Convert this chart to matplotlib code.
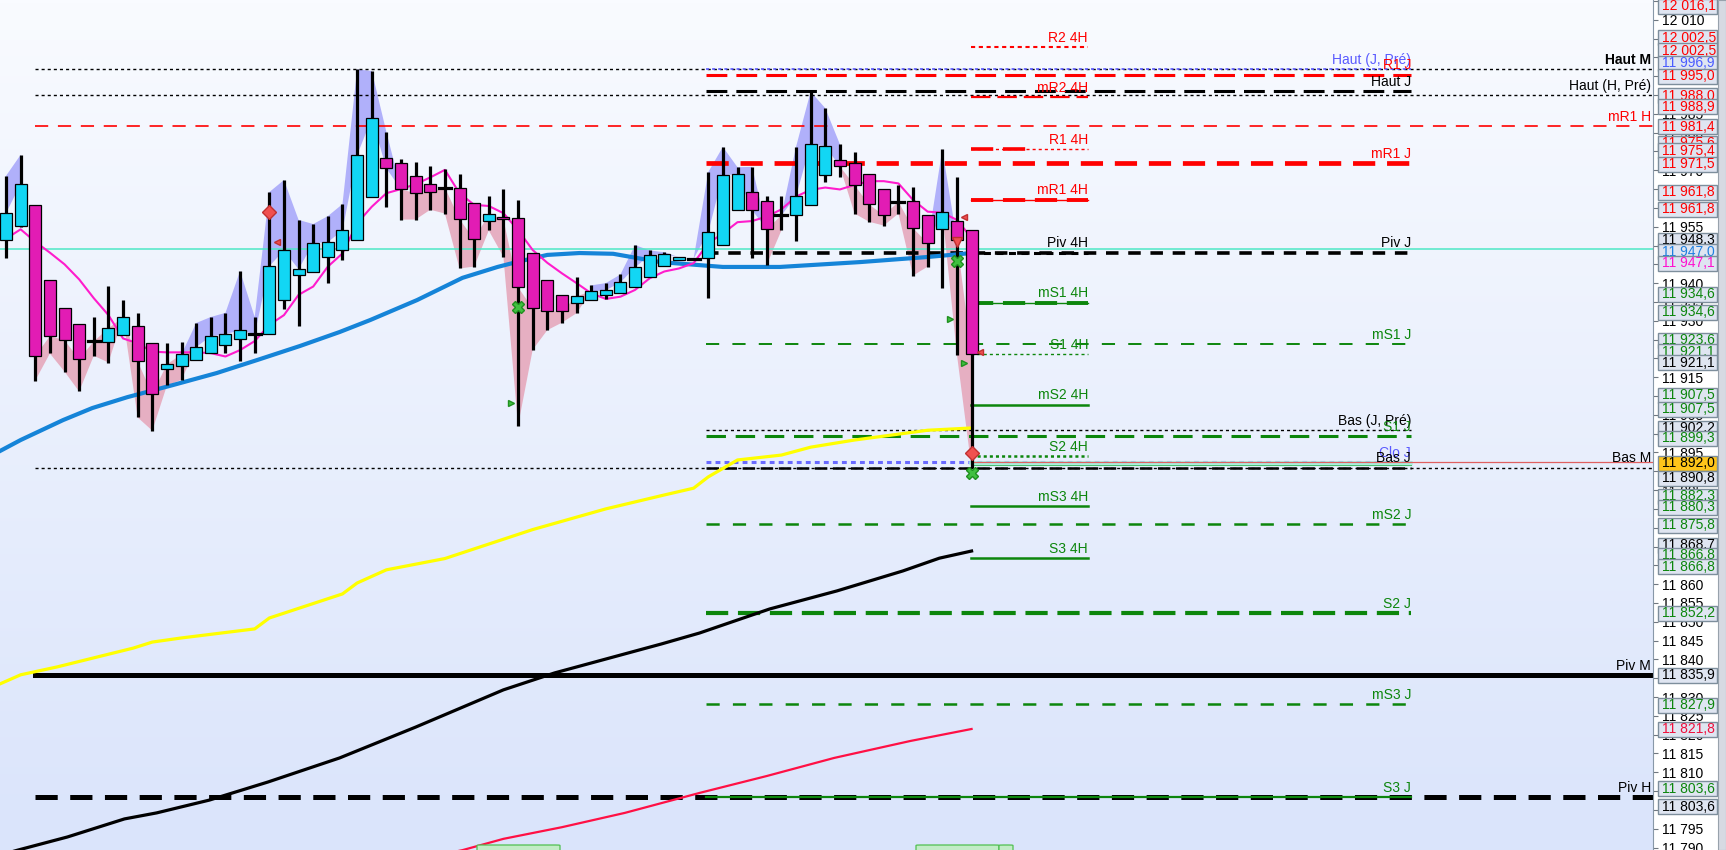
import numpy as np
import matplotlib.pyplot as plt
from matplotlib.patches import Rectangle, FancyBboxPatch
from matplotlib.transforms import blended_transform_factory
from matplotlib.colors import LinearSegmentedColormap

plt.rcParams['font.family'] = ['Liberation Sans', 'DejaVu Sans']
plt.rcParams['lines.scale_dashes'] = False

# candles (one per bar)
opens = [11951.5, 11955.1, 11960.7, 11940.8, 11933.3, 11929.1, 11924.5, 11924.3, 11926.1, 11928.5,
         11924.0, 11917.1, 11917.9, 11919.5, 11921.4, 11923.5, 11925.1, 11926.4, 11926.4, 11935.5,
         11942.1, 11942.9, 11946.9, 11948.7, 11951.4, 11962.8, 11973.2, 11971.8, 11968.4, 11966.3,
         11965.4, 11965.2, 11961.2, 11956.4, 11957.5, 11957.2, 11947.9, 11940.8, 11936.8, 11934.6,
         11935.4, 11936.8, 11937.3, 11938.9, 11941.6, 11944.5, 11946.1, 11946.5, 11946.6, 11950.1,
         11959.4, 11964.1, 11961.7, 11958.0, 11958.0, 11960.7, 11968.7, 11972.6, 11971.8, 11968.9,
         11964.9, 11961.6, 11961.7, 11958.0, 11954.3, 11956.4, 11954.0]
highs = [11968.5, 11974.1, 11960.7, 11940.8, 11933.3, 11929.1, 11931.0, 11939.3, 11935.5, 11932.1,
         11924.0, 11924.1, 11924.4, 11929.4, 11931.0, 11932.1, 11943.2, 11931.0, 11964.2, 11967.4,
         11956.8, 11955.7, 11957.8, 11961.0, 11996.8, 11996.4, 11980.2, 11972.9, 11972.2, 11971.0,
         11970.3, 11969.0, 11961.2, 11963.2, 11965.0, 11962.1, 11947.9, 11940.8, 11936.8, 11941.6,
         11939.4, 11940.0, 11942.3, 11950.1, 11948.7, 11948.2, 11946.9, 11946.5, 11969.5, 11976.2,
         11970.8, 11970.9, 11963.2, 11963.2, 11976.2, 11990.9, 11986.5, 11976.9, 11974.8, 11968.9,
         11964.9, 11966.1, 11965.5, 11958.0, 11975.6, 11968.1, 11954.0]
lows = [11946.6, 11955.0, 11914.1, 11921.3, 11916.5, 11911.2, 11920.7, 11918.9, 11926.1, 11904.3,
        11900.8, 11912.8, 11914.3, 11919.5, 11921.4, 11921.3, 11919.4, 11921.3, 11926.4, 11933.2,
        11928.7, 11942.9, 11940.1, 11946.2, 11951.4, 11962.8, 11960.3, 11956.9, 11956.9, 11959.5,
        11958.5, 11943.9, 11944.4, 11954.0, 11947.0, 11902.1, 11922.3, 11927.5, 11929.5, 11932.0,
        11935.4, 11935.7, 11937.3, 11938.9, 11941.6, 11944.5, 11946.1, 11946.5, 11936.1, 11950.1,
        11959.4, 11946.8, 11944.9, 11954.0, 11951.3, 11960.7, 11967.0, 11968.1, 11958.5, 11956.3,
        11955.3, 11958.5, 11942.0, 11944.4, 11938.8, 11921.0, 11890.8]
closes = [11958.6, 11966.3, 11920.6, 11925.9, 11924.8, 11919.8, 11924.5, 11928.0, 11930.9, 11919.2,
          11910.5, 11918.4, 11921.1, 11923.0, 11925.9, 11926.4, 11927.5, 11926.4, 11944.5, 11948.7,
          11943.7, 11950.6, 11950.9, 11954.0, 11974.0, 11983.8, 11970.5, 11964.9, 11963.9, 11964.1,
          11965.4, 11957.0, 11951.6, 11958.3, 11957.0, 11938.9, 11933.3, 11932.5, 11932.5, 11936.5,
          11937.8, 11938.1, 11940.2, 11944.2, 11947.4, 11947.7, 11946.9, 11946.5, 11953.5, 11968.7,
          11968.9, 11959.4, 11954.3, 11958.0, 11963.1, 11976.9, 11976.4, 11971.0, 11966.0, 11960.9,
          11958.0, 11961.6, 11954.6, 11950.6, 11958.8, 11951.4, 11921.1]

# short moving average (magenta), one value per bar
ma_fast = [11951.8, 11954.3, 11951.0, 11948.1, 11945.0, 11941.0, 11936.0, 11931.5, 11925.3, 11924.0,
           11921.8, 11921.6, 11921.6, 11921.6, 11921.4, 11920.5, 11922.2, 11924.6, 11928.9, 11931.5,
           11936.9, 11939.1, 11944.4, 11947.9, 11955.9, 11960.3, 11963.9, 11965.0, 11966.3, 11968.1,
           11970.1, 11963.9, 11960.8, 11960.5, 11958.6, 11954.1, 11948.8, 11945.4, 11942.6, 11940.0,
           11937.3, 11935.8, 11936.4, 11938.2, 11941.3, 11943.1, 11943.9, 11945.3, 11950.6, 11953.2,
           11956.2, 11956.5, 11957.7, 11959.6, 11963.0, 11964.8, 11965.4, 11964.9, 11966.1, 11967.1,
           11967.1, 11966.5, 11962.1, 11959.0, 11958.7, 11956.8, 11952.0]

# slower averages, read at a few bars
ma_blue_x = [-0.4, 1.0, 3.9, 5.9, 8.3, 11.4, 14.4, 17.2, 20.1, 22.8, 24.9, 28.1, 31.2, 33.6, 34.9,
             37.0, 39.2, 41.5, 44.7, 49.0, 52.9, 58.4, 63.0, 66.0]
ma_blue = [11895.4, 11898.3, 11903.6, 11906.8, 11909.7, 11912.9, 11916.1, 11919.6, 11923.3, 11927.0,
           11930.2, 11935.5, 11941.4, 11944.3, 11945.6, 11947.5, 11948.0, 11947.8, 11945.6, 11944.3,
           11944.3, 11945.6, 11946.95, 11948.0]
ma_yellow_x = [-0.4, 1, 3.5, 8.7, 10, 12, 17, 18, 23, 24, 26, 30, 36, 41, 45, 47, 48, 50, 53, 55, 58, 63, 66]
ma_yellow = [11833.5, 11835.9, 11838.0, 11843.0, 11844.6, 11845.7, 11848.1, 11851.0, 11857.4, 11860.3,
             11863.8, 11866.8, 11874.5, 11880.0, 11883.7, 11885.5, 11888.5, 11893.0, 11894.3, 11896.4,
             11898.3, 11900.9, 11901.5]
ma_black_x = [-0.4, 0.8, 4.2, 8.1, 10.3, 13.9, 17.9, 22.8, 28.0, 34.0, 37.5, 44.8, 47.4, 52.2, 56.8,
              61.3, 63.8, 66.0]
ma_black = [11788.0, 11789.3, 11792.8, 11797.6, 11799.2, 11802.6, 11807.4, 11813.8, 11822.0, 11831.9,
            11836.4, 11844.1, 11847.0, 11853.4, 11858.2, 11863.5, 11866.9, 11868.8]
ma_red_x = [29.0, 31.2, 34.0, 38.0, 42.3, 47.4, 52.0, 56.6, 61.8, 66.0]
ma_red = [11787.5, 11789.3, 11792.3, 11795.4, 11799.2, 11804.5, 11809.0, 11813.8, 11818.3, 11821.5]

# pivot levels: 4H, day (J) and long (M / H)
lvl4h_names = ['R2 4H', 'mR2 4H', 'R1 4H', 'mR1 4H', 'Piv 4H', 'mS1 4H', 'S1 4H', 'mS2 4H',
               'S2 4H', 'mS3 4H', 'S3 4H']
lvl4h_vals = [12002.8, 11989.4, 11975.6, 11962.2, 11948.1, 11934.8, 11921.1, 11907.7,
              11894.1, 11880.7, 11867.0]
lvlj_names = ['Haut (J, Pré)', 'R1 J', 'Haut J', 'mR1 J', 'Piv J', 'mS1 J', 'Bas (J, Pré)', 'S1 J',
              'Clo J', 'Bas J', 'mS2 J', 'S2 J', 'mS3 J', 'S3 J']
lvlj_vals = [11996.9, 11995.4, 11991.1, 11971.85, 11948.1, 11923.7, 11900.9, 11899.4,
             11892.4, 11890.95, 11875.9, 11852.2, 11828.05, 11803.4]
lvlm_names = ['Haut M', 'Haut (H, Pré)', 'mR1 H', 'Bas M', 'Piv M', 'Piv H']
lvlm_vals = [11996.9, 11989.9, 11981.8, 11890.95, 11835.85, 11803.4]
cyan_level = 11949.0
last_price = 11892.5

# price tags on the right scale
tag_vals = [12016.1, 12002.5, 12002.5, 11996.9, 11995.0, 11988.0, 11988.9, 11981.4, 11975.6, 11975.4,
            11971.5, 11961.8, 11961.8, 11948.3, 11947.0, 11947.1, 11934.6, 11934.6, 11923.6, 11921.1,
            11921.1, 11907.5, 11907.5, 11902.2, 11899.3, 11892.0, 11890.8, 11882.3, 11880.3, 11875.8,
            11868.7, 11866.8, 11866.8, 11852.2, 11835.9, 11827.9, 11821.8, 11803.6, 11803.6]
tag_kind = ['r', 'r', 'r', 'b', 'r', 'r', 'r', 'r', 'r', 'r',
            'r', 'r', 'r', 'k', 'c', 'm', 'g', 'g', 'g', 'g',
            'k', 'g', 'g', 'k', 'g', 'y', 'k', 'g', 'g', 'g',
            'k', 'g', 'g', 'g', 'k', 'g', 'p', 'g', 'k']
# rows (pixels from top) where the platform stacked the tags
tag_rows = [6, 37.7, 50.7, 63, 76, 95.7, 106.7, 126.7, 143, 150.7,
            164.3, 192, 209.3, 240, 251.7, 263.3, 294, 312.3, 340, 351.7,
            362.7, 395.3, 409.3, 428, 438.3, 463.3, 478.3, 496, 507.3, 525.3,
            545, 555, 566.7, 613.3, 675.3, 705, 729, 788.7, 806.7]

RED = '#ff0000'
GREEN = '#0c860c'
BLACK = '#000000'
BLUE = '#5a5aff'
UP = '#12d6f4'
DOWN = '#e21cb4'

W, H = 1726, 850
PLOT_W = 1653
fig = plt.figure(figsize=(W / 100, H / 100), dpi=100)
fig.patch.set_facecolor('white')
ax = fig.add_axes([0, 0, PLOT_W / W, 1])

bar_px = 14.63
x0 = -6 / bar_px
x1 = (PLOT_W - 6) / bar_px
y1 = 12015.25
px_per_pt = 3.7625
y0 = y1 - H / px_per_pt


def idx(px):
    return (px - 6) / bar_px


grad = np.linspace(0, 1, 256).reshape(-1, 1)
bg = LinearSegmentedColormap.from_list('bg', ['#f9fbff', '#dae4fb'])
ax.imshow(grad, extent=(x0, x1, y0, y1), origin='upper', aspect='auto', cmap=bg, zorder=0)

xs = np.arange(len(opens))
o = np.array(opens)
c = np.array(closes)
hi = np.array(highs)
lo = np.array(lows)
ma = np.array(ma_fast)

# shaded ribbons: towards the highs when above the fast average, towards the lows below it
ax.fill_between(xs, c, hi, where=c >= ma, interpolate=True, color='#b0b0fa', lw=0, zorder=1)
ax.fill_between(xs, c, lo, where=c < ma, interpolate=True, color='#e6afc2', lw=0, zorder=1)

# full-width levels
m_start, m_end = idx(35), x1
ax.plot([x0, x1], [cyan_level, cyan_level], color='#4ee8c6', lw=1.1, zorder=2)
mstyles = {
    'Haut M': dict(color=BLACK, lw=1.0, dashes=(2.2, 2.2)),
    'Haut (H, Pré)': dict(color=BLACK, lw=1.0, dashes=(2.2, 2.2)),
    'mR1 H': dict(color=RED, lw=1.2, dashes=(9.5, 7)),
    'Bas M': dict(color=BLACK, lw=1.0, dashes=(2.2, 2.2)),
    'Piv M': dict(color=BLACK, lw=3.6),
    'Piv H': dict(color=BLACK, lw=3.6, dashes=(16, 9)),
}
for name, v in zip(lvlm_names, lvlm_vals):
    ax.plot([m_start, m_end], [v, v], zorder=2, **mstyles[name])
    col = RED if name.startswith('mR') else BLACK
    ax.text(idx(1651), v + 0.6, name, ha='right', va='bottom', fontsize=10, color=col,
            zorder=6, fontweight='bold' if name == 'Haut M' else 'normal')

# day levels
j_start, j_end = idx(706), idx(1411)
jstyles = {
    'Haut (J, Pré)': dict(color=BLUE, lw=1.2, dashes=(2.2, 2.2)),
    'R1 J': dict(color=RED, lw=2.2, dashes=(15, 6.5)),
    'Haut J': dict(color=BLACK, lw=2.2, dashes=(15, 6.5)),
    'mR1 J': dict(color=RED, lw=3.4, dashes=(16, 8.5)),
    'Piv J': dict(color=BLACK, lw=2.6, dashes=(9, 7)),
    'mS1 J': dict(color=GREEN, lw=1.4, dashes=(9.5, 9.5)),
    'Bas (J, Pré)': dict(color=BLACK, lw=1.0, dashes=(2.2, 2.2)),
    'S1 J': dict(color=GREEN, lw=2.2, dashes=(14, 7)),
    'Clo J': dict(color='#6a6aff', lw=2.2, dashes=(3.5, 3)),
    'Bas J': dict(color=BLACK, lw=1.8, dashes=(9, 4)),
    'mS2 J': dict(color=GREEN, lw=1.8, dashes=(9.5, 9.5)),
    'S2 J': dict(color=GREEN, lw=3.0, dashes=(16, 7)),
    'mS3 J': dict(color=GREEN, lw=1.8, dashes=(9.5, 9.5)),
    'S3 J': dict(color=GREEN, lw=1.6),
}
for name, v in zip(lvlj_names, lvlj_vals):
    ax.plot([j_start, j_end], [v, v], zorder=2, **jstyles[name])
    st = jstyles[name]
    col = '#5a5aff' if name in ('Haut (J, Pré)', 'Clo J') else st['color']
    ax.text(j_end, v + 0.6, name, ha='right', va='bottom', fontsize=10, color=col, zorder=6)

# current price band and line
ax.plot([idx(971), j_end], [11892.2, 11892.2], color='#a8f2e2', lw=2.6, zorder=2)
ax.plot([idx(971), j_end], [11891.6, 11891.6], color='#4cc070', lw=0.8, zorder=2)
ax.plot([idx(971), x1], [last_price, last_price], color='#e06060', lw=0.9, zorder=2)

# 4H levels
h_start, h_end = idx(971), idx(1088)
h_mid = idx(1030)
for name, v in zip(lvl4h_names, lvl4h_vals):
    col = RED if 'R' in name else (BLACK if 'Piv' in name else GREEN)
    if name == 'R2 4H':
        ax.plot([h_start, h_end], [v, v], color=col, lw=1.5, dashes=(3, 2.6), zorder=3)
    elif name == 'mR2 4H':
        ax.plot([h_start, h_end], [v, v], color=col, lw=1.6, dashes=(14, 5), zorder=3)
    elif name in ('R1 4H', 'S1 4H', 'S2 4H'):
        ax.plot([h_start, h_end], [v, v], color=col, lw=1.0 if name != 'S2 4H' else 1.8,
                dashes=(2.2, 2.2), zorder=3)
        if name == 'R1 4H':
            ax.plot([h_start, h_mid], [v, v], color=col, lw=2.6, dashes=(16, 7), zorder=3)
    elif name in ('mR1 4H', 'mS1 4H'):
        ax.plot([h_start, h_end], [v, v], color=col, lw=1.0, zorder=3)
        ax.plot([h_start, h_end], [v, v], color=col, lw=2.8, dashes=(16, 7), zorder=3)
    elif name == 'Piv 4H':
        ax.plot([h_start, h_end], [v, v], color=col, lw=2.2, dashes=(5, 4), zorder=3)
    else:
        ax.plot([h_start, h_end], [v, v], color=col, lw=1.8, zorder=3)
    ax.text(h_end, v + 0.6, name, ha='right', va='bottom', fontsize=10, color=col, zorder=6)

# moving averages
ax.plot(ma_yellow_x, ma_yellow, color='#ffff00', lw=2.3, zorder=3)
ax.plot(ma_black_x, ma_black, color=BLACK, lw=2.3, zorder=3)
ax.plot(ma_red_x, ma_red, color='#ff1044', lw=1.6, zorder=3)
ax.plot(ma_blue_x, ma_blue, color='#1584d8', lw=3.0, zorder=3)
ax.plot(xs, ma, color='#ff1ccc', lw=1.5, zorder=3)

# candles
body_w = 12 / bar_px
ax.vlines(xs, lo, hi, color=BLACK, lw=2.3, zorder=4)
for i in range(len(xs)):
    if abs(c[i] - o[i]) < 0.05:
        ax.plot([i - body_w / 2, i + body_w / 2], [o[i], o[i]], color=BLACK, lw=2.3, zorder=5)
        continue
    col = UP if c[i] > o[i] else DOWN
    ax.add_patch(Rectangle((i - body_w / 2, min(o[i], c[i])), body_w, abs(c[i] - o[i]),
                           facecolor=col, edgecolor=BLACK, lw=0.9, zorder=5))

# signal markers
ax.plot([18.0, 66.0], [11959.0, 11894.9], 'D', color='#f05050', mec='#c03030', ms=7, zorder=6)
ax.plot([65.0], [11950.9], 'v', color='#f05050', mec='#c03030', ms=7, zorder=6)
ax.plot([18.5, 65.5, 66.6], [11950.9, 11957.6, 11921.7], '<', color='#f05050', mec='#c03030', ms=5, zorder=6)
ax.plot([35.0, 65.0, 66.0], [11933.7, 11945.8, 11889.6], 'X', color='#40c040', mec='#209020', ms=8, zorder=6)
ax.plot([34.5, 64.5, 65.5], [11908.1, 11930.4, 11918.8], '>', color='#40c040', mec='#209020', ms=5, zorder=6)

# scroll handles at the bottom
y_handle = y1 - 845 / px_per_pt
for a, b in [(477, 560), (916, 999), (999, 1013)]:
    ax.add_patch(FancyBboxPatch((idx(a), y_handle - 3), idx(b) - idx(a), 3,
                                boxstyle='round,pad=0,rounding_size=0.3', mutation_aspect=0.3,
                                facecolor='#c2ecc6', edgecolor='#50c050', lw=0.9, zorder=7))

ax.set_xlim(x0, x1)
ax.set_ylim(y0, y1)
ax.set_xticks([])
ticks = np.arange(11790, 12016, 5)
ax.yaxis.tick_right()
ax.set_yticks(ticks)
ax.set_yticklabels([f'{t // 1000} {t % 1000:03d}' for t in ticks])
ax.tick_params(axis='y', length=3.5, width=0.8, color='#707880', pad=3, labelsize=10)
for s in ['left', 'top', 'bottom']:
    ax.spines[s].set_visible(False)
ax.spines['right'].set_color('#8898a8')

# price tags
trans = blended_transform_factory(ax.transAxes, ax.transData)
tag_col = {'r': '#ff0000', 'b': '#4a5cff', 'k': '#000000', 'c': '#1e7fe0', 'm': '#ff10d0',
           'g': '#0c860c', 'y': '#000000', 'p': '#f0103c'}
box_h = 15 / px_per_pt
bx = 1658 / PLOT_W
bw = 59 / PLOT_W
for k, (v, kind, row) in enumerate(zip(tag_vals, tag_kind, tag_rows)):
    yc = y1 - row / px_per_pt
    fc = '#ffc51a' if kind == 'y' else '#dfe5f1'
    ax.add_patch(Rectangle((bx, yc - box_h / 2), bw, box_h, transform=trans, clip_on=False,
                           facecolor=fc, edgecolor='#7d8e9c', lw=1.0, zorder=20 + k))
    s = f'{v:.1f}'
    txt = f'{s[:2]} {s[2:5]},{s[6]}'
    ax.text(1662 / PLOT_W, yc, txt, transform=trans, ha='left', va='center', fontsize=10,
            color=tag_col[kind], clip_on=False, zorder=20.5 + k)

# scrollbar strip on the far right
fig.patches.append(Rectangle((1718 / W, 0), 8 / W, 1, transform=fig.transFigure,
                             facecolor='#d6dae2', edgecolor='#98a2ac', lw=0.8))

fig.savefig('out.png', dpi=100)
